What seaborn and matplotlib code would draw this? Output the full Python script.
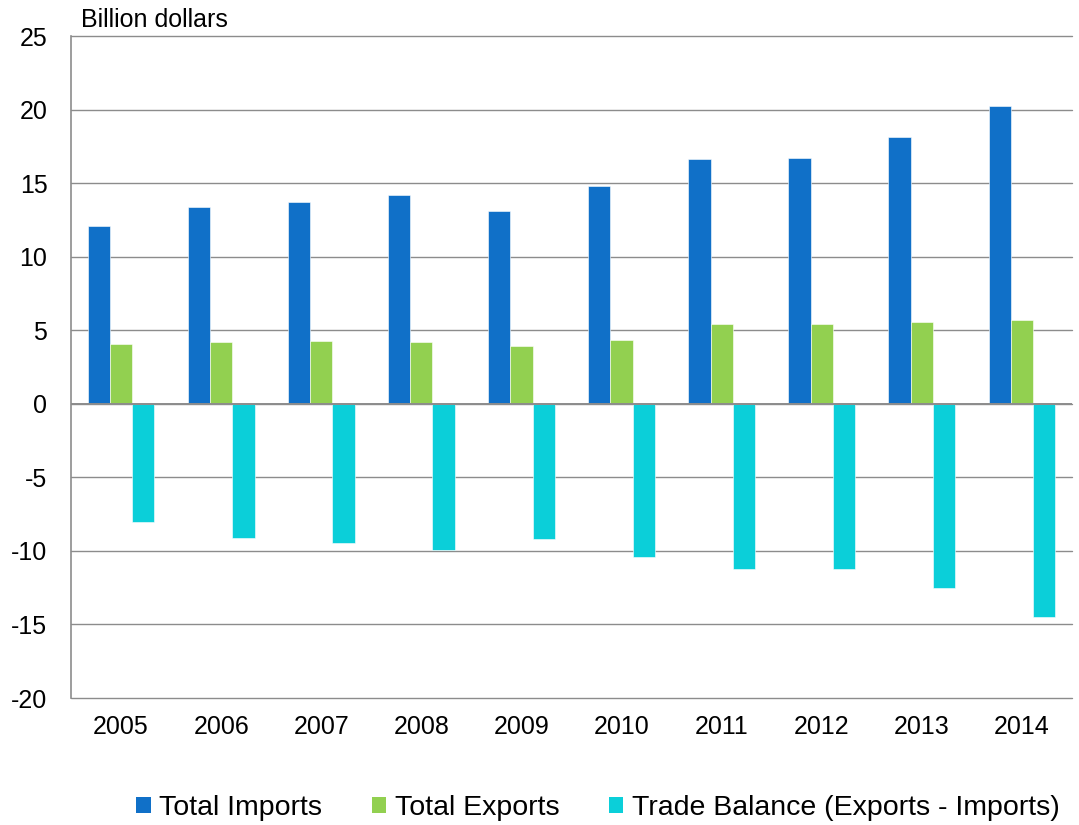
import matplotlib
matplotlib.use("Agg")
import matplotlib.pyplot as plt
import seaborn as sns
import pandas as pd
from matplotlib.patches import Patch

years = ["2005", "2006", "2007", "2008", "2009", "2010", "2011", "2012", "2013", "2014"]
total_imports = [12.08, 13.35, 13.69, 14.17, 13.12, 14.80, 16.62, 16.69, 18.12, 20.25]
total_exports = [4.04, 4.20, 4.24, 4.22, 3.93, 4.36, 5.40, 5.45, 5.56, 5.72]
trade_balance = [-8.05, -9.14, -9.43, -9.93, -9.16, -10.43, -11.20, -11.25, -12.54, -14.51]
series_names = ["Total Imports", "Total Exports", "Trade Balance (Exports - Imports)"]
colors = ["#1070C8", "#92D050", "#0BCFD9"]
y_ticks = [-20, -15, -10, -5, 0, 5, 10, 15, 20, 25]

df = pd.DataFrame({
    "year": years * 3,
    "value": total_imports + total_exports + trade_balance,
    "series": [series_names[0]] * 10 + [series_names[1]] * 10 + [series_names[2]] * 10,
})

sns.set_style("white")
plt.rcParams["font.family"] = ["Liberation Sans", "DejaVu Sans"]
plt.rcParams["text.color"] = "black"
plt.rcParams["xtick.color"] = "black"
plt.rcParams["ytick.color"] = "black"

fig = plt.figure(figsize=(10.79, 8.25), dpi=100)
ax = fig.add_axes([71 / 1079, 1 - 698 / 825, (1072 - 71) / 1079, (698 - 36) / 825])

sns.barplot(data=df, x="year", y="value", hue="series", order=years,
            hue_order=series_names, palette=colors, saturation=1, width=0.667, gap=0,
            edgecolor="white", linewidth=0.4, ax=ax, legend=False)

ax.set_ylim(-20, 25)
ax.set_xlim(-0.5, 9.5)
ax.set_yticks(y_ticks)
ax.set_yticklabels([str(t) for t in y_ticks])
ax.yaxis.grid(True, color="#8C8C8C", linewidth=1.0)
for gl in ax.get_ygridlines():
    gl.set_clip_on(False)
ax.set_axisbelow(True)
ax.axhline(0, color="#8C8C8C", linewidth=1.4, zorder=3)
for s in ["top", "right", "bottom"]:
    ax.spines[s].set_visible(False)
ax.spines["left"].set_color("#8C8C8C")
ax.spines["left"].set_linewidth(1.2)
ax.tick_params(axis="y", length=0, pad=17, labelsize=18, labelcolor="black")
ax.tick_params(axis="x", length=0, pad=12, labelsize=18, labelcolor="black")
ax.set_xlabel("")
ax.set_ylabel("")

fig.text(81 / 1079, 1 - 27 / 825, "Billion dollars", fontsize=18, ha="left", va="baseline", color="black")

handles = [Patch(facecolor=c, edgecolor="none") for c in colors]
fig.legend(handles, series_names, loc="center", bbox_to_anchor=(598 / 1079, 1 - 808 / 825),
           ncol=3, frameon=False, fontsize=20.5, handlelength=0.5, handleheight=0.5,
           handletextpad=0.3, columnspacing=1.75, borderaxespad=0, borderpad=0)

fig.savefig("out.png", dpi=100)
